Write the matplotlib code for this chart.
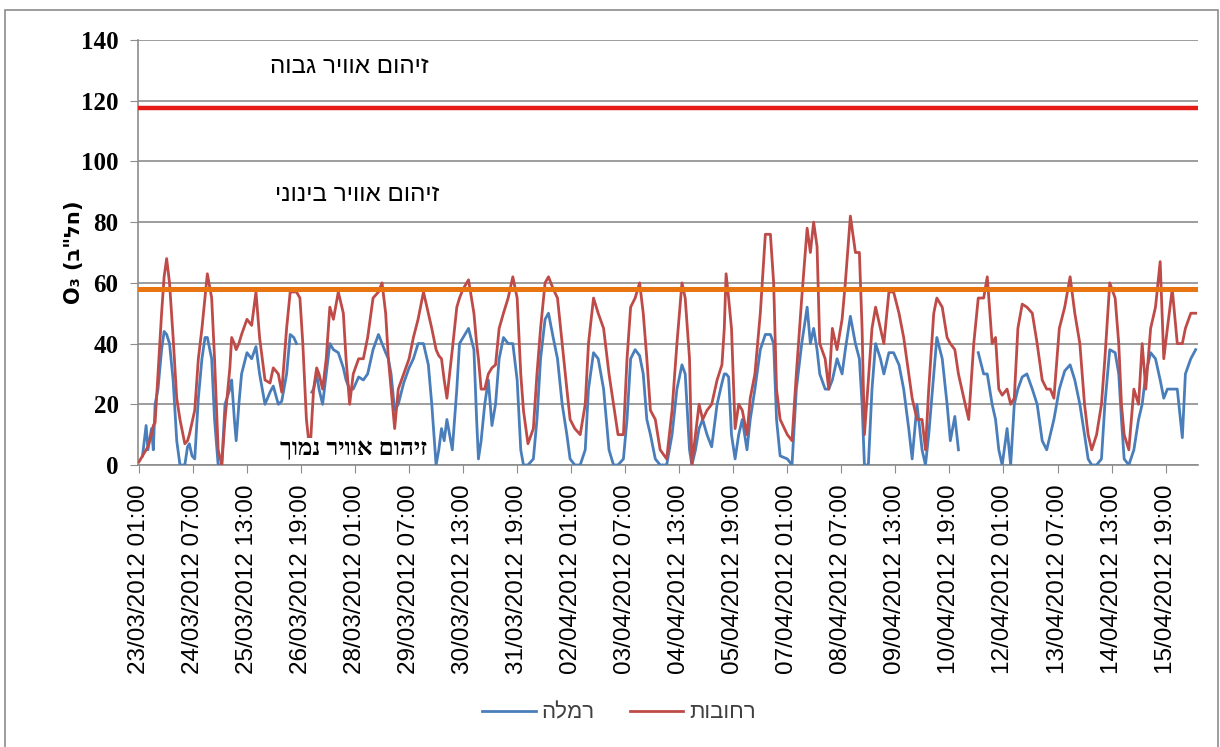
import numpy as np
import matplotlib
matplotlib.use("Agg")
import matplotlib.pyplot as plt
import matplotlib.patches as mpatches

# שעות מתחילת המדידה (23/03/2012 01:00)
hours = [0, 2, 4, 5, 7, 8, 9, 10.6, 12.6, 14, 15.4, 17, 19, 21, 22.8, 25.5, 27, 28, 29.5, 31,
         33, 35, 36.7, 38, 40.4, 42, 44, 46, 47.8, 50.5, 51.5, 53, 54, 55.5, 57, 60, 62.6, 65, 67, 70,
         72.8, 74.6, 77.4, 79.3, 82, 84, 86, 87.5, 89.4, 91, 93, 95, 96, 97, 98.7, 100, 102, 104, 106, 108,
         110.7, 113.5, 115, 117, 119, 122, 124.6, 127, 130, 133, 135, 137, 138.5, 140, 142, 144, 147, 150, 152.4, 155,
         158, 160.7, 162.6, 165, 166.5, 168, 169.5, 171, 172.5, 174, 176.5, 178, 180, 183, 186, 187.5, 188.5, 190, 192, 194,
         196, 198, 200, 202.4, 205, 207.6, 210, 212, 213.5, 216, 219, 221, 223, 225.5, 227.4, 230, 232.4, 235, 237.6, 239.4,
         242, 245, 247.8, 249.6, 252.4, 255, 258, 261, 263.5, 266, 269, 271, 273, 275.5, 278, 280, 282, 284, 286.7, 289.4,
         293, 296, 298.7, 301.5, 303.3, 305.7, 307, 309, 311, 313, 315.4, 318, 321, 323.7, 325, 326, 327.4, 329, 331, 333,
         335, 337.6, 339.4, 342, 345, 347.8, 350.6, 352.4, 354, 356, 360, 362.6, 365, 368, 371, 372.8, 374.6, 376.5, 378, 381,
         383, 385, 387.6, 390.4, 392.2, 395, 397.8, 400, 401.5, 402.8, 405, 407, 409, 411.7, 413.6, 416.4, 419, 422, 424.6, 427.4,
         429.3, 432, 434.8, 436.7, 438.5, 441.3, 443, 446, 448.7, 450.5, 453, 455, 458, 460.7, 463.5, 466, 469, 471, 473.7, 475.6,
         477.4, 479.3, 482, 484, 486, 488, 490.4, 493, 496, 498.7, 501.5, 504, 506, 508, 511, 514, 517, 519.6, 522.4, 525,
         527, 529, 531.7, 534.4, 536.3, 539, 542, 544, 545.5, 547, 549.6, 552.4, 555, 557, 559, 561.7, 564.4, 567, 569, 571,
         573.7, 576.5, 579.3, 581, 584, 586.7]

rehovot = [1, 3, 5, 6, 10, 13, 14, 30, 50, 62, 68, 60, 42, 22, 15, 7, 8, 10, 14, 18,
           35, 45, 55, 63, 55, 35, 5, 0, 15, 32, 42, 40, 38, 40, 43, 48, 46, 57, 42, 28,
           27, 32, 30, 24, 45, 57, 57, 57, 55, 40, 15, 4, 15, 25, 32, 30, 25, 35, 52, 48,
           57, 50, 35, 20, 30, 35, 35, 42, 55, 57, 60, 50, 35, 25, 12, 25, 30, 35, 42, 48,
           57, 50, 45, 38, 36, 35, 28, 22, 30, 38, 52, 55, 58, 61, 50, 40, 35, 25, 25, 30,
           32, 33, 45, 50, 55, 62, 55, 30, 18, 7, 12, 30, 45, 60, 62, 58, 55, 40, 25, 15,
           12, 10, 20, 40, 55, 50, 45, 30, 20, 10, 10, 35, 52, 55, 60, 50, 35, 18, 15, 5,
           2, 18, 40, 60, 55, 35, 0, 10, 20, 15, 18, 20, 28, 33, 45, 63, 55, 45, 12, 20,
           18, 10, 22, 30, 50, 76, 76, 60, 25, 15, 10, 8, 30, 55, 78, 70, 80, 72, 40, 35,
           25, 45, 38, 48, 60, 82, 70, 70, 45, 10, 28, 45, 52, 45, 40, 57, 57, 50, 42, 30,
           22, 15, 15, 5, 25, 50, 55, 52, 42, 40, 38, 30, 22, 15, 40, 55, 55, 62, 40, 42,
           25, 23, 25, 20, 22, 45, 53, 52, 50, 40, 28, 25, 25, 22, 45, 52, 62, 50, 40, 20,
           10, 5, 10, 20, 35, 60, 55, 40, 20, 10, 5, 25, 20, 40, 25, 45, 52, 67, 35, 45,
           58, 40, 40, 45, 50, 50]

ramla = [np.nan, 3, 13, 5, 12, 5, 20, 25, 38, 44, 43, 40, 28, 8, 0, 0, 6, 7, 3, 2,
         22, 35, 42, 42, 35, 15, 0, 0, 20, 25, 28, 15, 8, 20, 30, 37, 35, 39, 30, 20,
         24, 26, 20, 21, 30, 43, 42, 40, np.nan, np.nan, np.nan, np.nan, 24, 25, 30, 25, 20, 30, 40, 38,
         37, 32, 28, 25, 25, 29, 28, 30, 38, 43, 40, 37, 35, 30, 18, 20, 27, 32, 35, 40,
         40, 33, 20, 0, 5, 12, 8, 15, 10, 5, 25, 40, 42, 45, 38, 15, 2, 8, 20, 28,
         13, 20, 35, 42, 40, 40, 28, 5, 0, 0, 2, 15, 35, 48, 50, 42, 35, 20, 10, 2,
         0, 0, 5, 25, 37, 35, 25, 5, 0, 0, 2, 15, 35, 38, 36, 30, 15, 10, 2, 0,
         0, 10, 25, 33, 30, 5, 0, 5, 12, 15, 10, 6, 20, 27, 30, 30, 29, 10, 2, 10,
         15, 5, 15, 25, 38, 43, 43, 40, 15, 3, 2, 0, 25, 40, 52, 40, 45, 38, 30, 25,
         25, 28, 35, 30, 38, 49, 40, 35, 20, 0, 0, 25, 40, 35, 30, 37, 37, 33, 25, 12,
         2, 20, 5, 0, 10, 30, 42, 35, 20, 8, 16, 5, np.nan, 15, np.nan, 37, 30, 30, 20, 15,
         5, 0, 12, 0, 20, 25, 29, 30, 25, 20, 8, 5, 10, 15, 25, 31, 33, 28, 20, 10,
         2, 0, 0, 2, 20, 38, 37, 30, 15, 2, 0, 5, 15, 20, 30, 37, 35, 28, 22, 25,
         25, 25, 9, 30, 35, 38]

tick_hours = list(range(0, 571, 30))
tick_labels = ["23/03/2012 01:00", "24/03/2012 07:00", "25/03/2012 13:00", "26/03/2012 19:00",
               "28/03/2012 01:00", "29/03/2012 07:00", "30/03/2012 13:00", "31/03/2012 19:00",
               "02/04/2012 01:00", "03/04/2012 07:00", "04/04/2012 13:00", "05/04/2012 19:00",
               "07/04/2012 01:00", "08/04/2012 07:00", "09/04/2012 13:00", "10/04/2012 19:00",
               "12/04/2012 01:00", "13/04/2012 07:00", "14/04/2012 13:00", "15/04/2012 19:00"]

high_limit = 117.5
mid_limit = 58

# matplotlib לא הופך טקסט עברי, לכן המחרוזות הפוכות
def heb(s):
    return s[::-1]

fig = plt.figure(figsize=(12.2, 7.47), dpi=100)
ax = fig.add_axes([138 / 1220, 282 / 747, 1060 / 1220, 425 / 747])

ax.plot(hours, ramla, color="#4A7EBB", lw=2.0, label=heb("רמלה"), zorder=3)
ax.plot(hours, rehovot, color="#BE4B48", lw=2.0, label=heb("רחובות"), zorder=3)
ax.axhline(high_limit, color="#E41B17", lw=3.2, zorder=4)
ax.axhline(mid_limit, color="#E87511", lw=3.6, zorder=4)

ax.set_ylim(0, 140)
ax.set_xlim(-0.5, 588)
ax.set_yticks(range(0, 141, 20))
ax.yaxis.grid(True, color="#8C8C8C", lw=1.2)
ax.set_axisbelow(True)
ax.set_xticks(tick_hours)
ax.set_xticklabels(tick_labels, rotation=90, fontsize=17.5, family=["Liberation Sans", "DejaVu Sans"])
for lbl in ax.get_yticklabels():
    lbl.set_family("Liberation Serif")
    lbl.set_fontsize(18)
    lbl.set_fontweight("bold")
ax.tick_params(axis="x", length=6, color="#8C8C8C", pad=8)
ax.tick_params(axis="y", length=6, color="#8C8C8C", pad=8)
for s in ["top", "right"]:
    ax.spines[s].set_visible(False)
for s in ["left", "bottom"]:
    ax.spines[s].set_color("#8C8C8C")
    ax.spines[s].set_linewidth(1.2)

ax.set_ylabel("O\u2083 (" + heb('חל"ב') + ")", fontsize=15, fontweight="bold",
              family=["DejaVu Sans"], labelpad=-2)

ax.text(117, 131, heb("זיהום אוויר גבוה"), ha="center", va="center", fontsize=17.5,
        family=["Liberation Sans", "DejaVu Sans"])
ax.text(121, 89, heb("זיהום אוויר בינוני"), ha="center", va="center", fontsize=17.5,
        family=["Liberation Sans", "DejaVu Sans"])
ax.text(119, 5, heb("זיהום אוויר נמוך"), ha="center", va="center", fontsize=17.5, fontweight="bold",
        family=["Liberation Serif", "DejaVu Serif"], zorder=5,
        bbox=dict(facecolor="white", edgecolor="none", pad=1.0))

leg = ax.legend(loc="center", bbox_to_anchor=(619 / 1220, 34 / 747), bbox_transform=fig.transFigure,
                ncol=2, frameon=False, handlelength=2.4, handletextpad=0.25, columnspacing=1.6,
                prop={"family": ["Liberation Sans", "DejaVu Sans"], "size": 16})
for t in leg.get_texts():
    t.set_color("#404040")

fig.patches.append(mpatches.Rectangle((5 / 1220, -2 / 747), 1213 / 1220, 739 / 747, transform=fig.transFigure,
                                      fill=False, edgecolor="#8C8C8C", lw=1.2))

fig.savefig("out.png", dpi=100)
